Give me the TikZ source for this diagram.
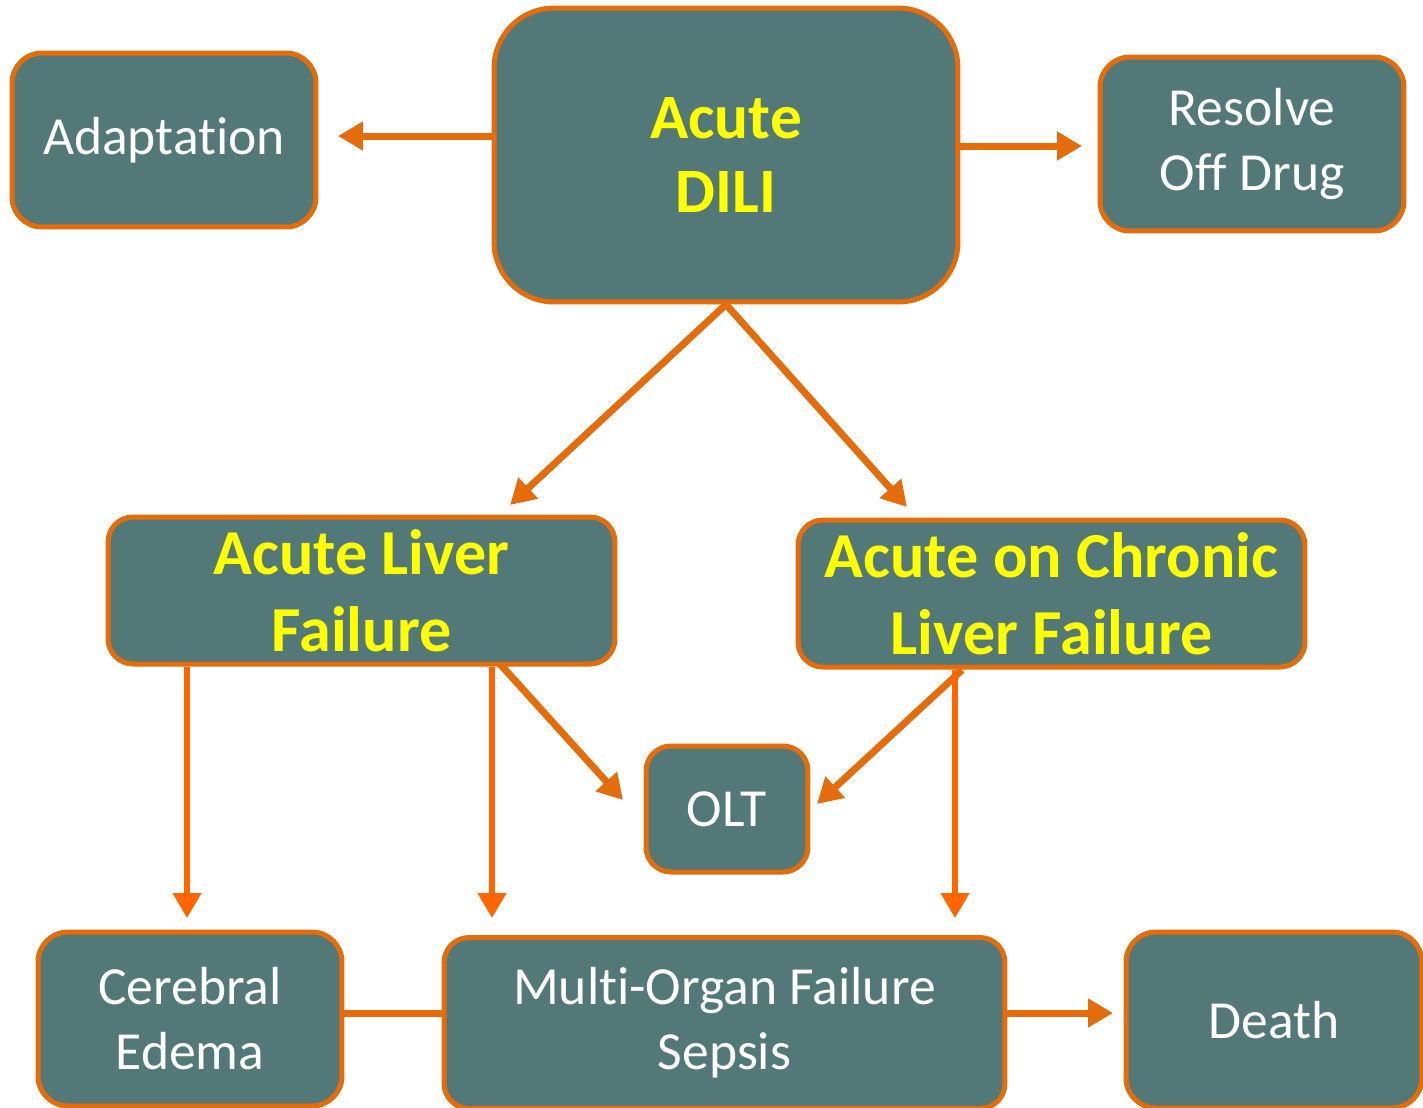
\documentclass[tikz,border=0pt]{standalone}
\usepackage{fontspec}
\setmainfont{Carlito}[RawFeature=-liga]
\usetikzlibrary{arrows.meta,calc}
\definecolor{boxfill}{HTML}{537878}
\definecolor{edge}{HTML}{E46C0A}
\definecolor{brightedge}{HTML}{FF6600}
\definecolor{hiyellow}{HTML}{FFFF00}
\begin{document}
\begin{tikzpicture}[x=0.02cm,y=-0.02cm,
  box/.style={draw=edge,line width=0.1cm,fill=boxfill,rounded corners=0.6cm,
    text=white,align=center,inner sep=0pt,font=\fontsize{30.5}{37}\selectfont},
  hot/.style={box,text=hiyellow},
  arr/.style={draw=edge,line width=0.14cm,-{Triangle[length=0.5cm,width=0.55cm]}},
  varr/.style={arr,draw=brightedge,line width=0.12cm},
  plain/.style={draw=edge,line width=0.14cm}]
\useasboundingbox (0,0) rectangle (1423,1107);
\clip (0,0) rectangle (1423,1107);
% boxes
\node[box,minimum width=6.08cm,minimum height=3.48cm] (adapt) at (164,140) {Adaptation};
\node[hot,minimum width=9.28cm,minimum height=5.88cm,rounded corners=1.2cm,
  font=\fontsize{36}{42.5}\bfseries\selectfont] (dili) at (726,155) {Acute\\DILI};
\node[box,minimum width=6.08cm,minimum height=3.48cm] (resolve) at (1252,144) {Resolve\\Off Drug};
\node[hot,minimum width=10.14cm,minimum height=2.94cm,rounded corners=0.5cm,
  font=\fontsize{36.5}{44}\bfseries\selectfont] (alf) at (361.5,590.5) {Acute Liver\\Failure};
\node[hot,minimum width=10.14cm,minimum height=2.94cm,rounded corners=0.5cm,
  font=\fontsize{36.5}{44}\bfseries\selectfont] (aclf) at (1051.5,593.5) {Acute on Chronic\\Liver Failure};
\node[box,minimum width=3.24cm,minimum height=2.52cm,rounded corners=0.5cm] (olt) at (727,809) {OLT};
\node[box,minimum width=6.08cm,minimum height=3.48cm] (cereb) at (190,1019) {Cerebral\\Edema};
\node[box,minimum width=11.22cm,minimum height=3.42cm,rounded corners=0.5cm] (mof) at (724.5,1023) {Multi-Organ Failure\\Sepsis};
\node[box,minimum width=5.92cm,minimum height=3.52cm] (death) at (1274,1020) {Death};
% free ends
\coordinate (tAdapt) at (338,136);
\coordinate (tResolve) at (1082,146);
\coordinate (tALF) at (510,505);
\coordinate (tACLF) at (907,507);
\coordinate (tCereb) at (187,918);
\coordinate (tMofL) at (492,918);
\coordinate (tOltL) at (623,800);
\coordinate (tOltR) at (817,804);
\coordinate (tMofR) at (955,918);
\coordinate (tDeath) at (1113,1013);
\coordinate (sOltL) at (500,664);
\coordinate (sOltR) at (962,670);
\coordinate (link) at (400,1013);
% connectors
\draw[arr] (dili.west |- tAdapt) -- (tAdapt);
\draw[arr] (dili.east |- tResolve) -- (tResolve);
\draw[arr] (dili.south) -- (tALF);
\draw[arr] (dili.south) -- (tACLF);
\draw[varr] (alf.south -| tCereb) -- (tCereb);
\draw[varr] (alf.south -| tMofL) -- (tMofL);
\draw[arr] (sOltL) -- (tOltL);
\draw[arr] (sOltR) -- (tOltR);
\draw[varr] (aclf.south -| tMofR) -- (tMofR);
\draw[plain] (cereb.east |- link) -- (mof.west |- link);
\draw[arr] (mof.east |- tDeath) -- (tDeath);
\end{tikzpicture}
\end{document}
